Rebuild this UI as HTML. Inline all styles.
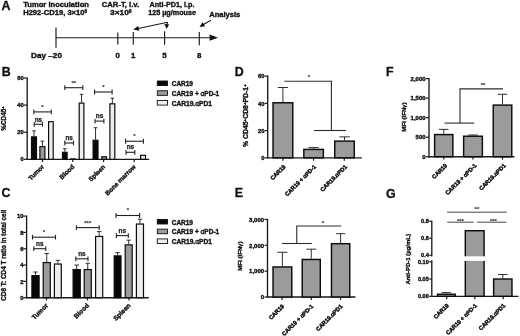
<!DOCTYPE html>
<html lang="en">
<head>
<meta charset="utf-8">
<title>Figure</title>
<style>
html,body{margin:0;padding:0;background:#fff;}
body{width:520px;height:336px;overflow:hidden;}
svg{display:block;font-family:"Liberation Sans", Arial, sans-serif;}
</style>
</head>
<body>
<svg width="520" height="336" viewBox="0 0 520 336">
<rect x="0" y="0" width="520" height="336" fill="#fff"/>
<g>
<text x="1.5" y="9.8" font-size="12.4" text-anchor="start" font-weight="bold" fill="#111" stroke="#111" stroke-width="0.32">A</text>
<text x="23.2" y="7.0" font-size="7.6" text-anchor="start" font-weight="bold" fill="#111" stroke="#111" stroke-width="0.36" textLength="65.80" lengthAdjust="spacingAndGlyphs">Tumor inoculation</text>
<text x="23.2" y="15.4" font-size="7.6" text-anchor="start" font-weight="bold" fill="#111" stroke="#111" stroke-width="0.36" textLength="63.80" lengthAdjust="spacingAndGlyphs">H292-CD19, 3×10<tspan font-size="4.6" dy="-2.6">6</tspan></text>
<text x="101.8" y="7.0" font-size="7.6" text-anchor="start" font-weight="bold" fill="#111" stroke="#111" stroke-width="0.36" textLength="37.30" lengthAdjust="spacingAndGlyphs">CAR-T, i.v.</text>
<text x="110.1" y="15.4" font-size="7.6" text-anchor="start" font-weight="bold" fill="#111" stroke="#111" stroke-width="0.36" textLength="21.60" lengthAdjust="spacingAndGlyphs">3×10<tspan font-size="4.6" dy="-2.6">6</tspan></text>
<text x="149.5" y="7.0" font-size="7.6" text-anchor="start" font-weight="bold" fill="#111" stroke="#111" stroke-width="0.36" textLength="44.90" lengthAdjust="spacingAndGlyphs">Anti-PD1, i.p.</text>
<text x="148.2" y="15.4" font-size="7.6" text-anchor="start" font-weight="bold" fill="#111" stroke="#111" stroke-width="0.36" textLength="47.80" lengthAdjust="spacingAndGlyphs">125 µg/mouse</text>
<text x="209.3" y="16.7" font-size="7.6" text-anchor="start" font-weight="bold" fill="#111" stroke="#111" stroke-width="0.36" textLength="31.00" lengthAdjust="spacingAndGlyphs">Analysis</text>
<line x1="56.00" y1="37.70" x2="212.00" y2="37.70" stroke="#1a1a1a" stroke-width="1.15"/>
<polygon points="209.6,34.6 218,37.7 209.6,40.8" fill="#111"/>
<line x1="56.00" y1="27.50" x2="56.00" y2="47.80" stroke="#1a1a1a" stroke-width="1.15"/>
<line x1="117.80" y1="32.60" x2="117.80" y2="44.60" stroke="#1a1a1a" stroke-width="1.15"/>
<line x1="133.30" y1="32.00" x2="133.30" y2="44.80" stroke="#1a1a1a" stroke-width="1.15"/>
<line x1="164.60" y1="31.30" x2="164.60" y2="44.80" stroke="#1a1a1a" stroke-width="1.15"/>
<line x1="199.30" y1="31.90" x2="199.30" y2="45.30" stroke="#1a1a1a" stroke-width="1.15"/>
<text x="31" y="58.4" font-size="7.9" text-anchor="start" font-weight="bold" fill="#111" stroke="#111" stroke-width="0.36" textLength="31.00" lengthAdjust="spacingAndGlyphs">Day –20</text>
<text x="117.8" y="58.4" font-size="7.9" text-anchor="middle" font-weight="bold" fill="#111" stroke="#111" stroke-width="0.36">0</text>
<text x="133.3" y="58.4" font-size="7.9" text-anchor="middle" font-weight="bold" fill="#111" stroke="#111" stroke-width="0.36">1</text>
<text x="164.5" y="58.4" font-size="7.9" text-anchor="middle" font-weight="bold" fill="#111" stroke="#111" stroke-width="0.36">5</text>
<text x="199.3" y="58.4" font-size="7.9" text-anchor="middle" font-weight="bold" fill="#111" stroke="#111" stroke-width="0.36">8</text>
<line x1="167.50" y1="22.20" x2="136.00" y2="29.00" stroke="#1a1a1a" stroke-width="1.05"/>
<polygon points="133.2,29.6 138.2,26.0 139.3,30.7" fill="#111"/>
<line x1="167.50" y1="22.20" x2="167.00" y2="25.00" stroke="#1a1a1a" stroke-width="1.05"/>
<polygon points="164.3,24.0 169.2,24.4 166.6,28.8" fill="#111"/>
<line x1="210.90" y1="20.20" x2="203.00" y2="24.80" stroke="#1a1a1a" stroke-width="1.05"/>
<polygon points="199.6,27.0 202.4,22.3 205.2,26.3" fill="#111"/>
<text x="1.7" y="75.9" font-size="12.4" text-anchor="start" font-weight="bold" fill="#111" stroke="#111" stroke-width="0.32">B</text>
<line x1="27.20" y1="77.60" x2="27.20" y2="159.98" stroke="#1a1a1a" stroke-width="1.35"/>
<line x1="26.52" y1="159.30" x2="149.20" y2="159.30" stroke="#1a1a1a" stroke-width="1.35"/>
<line x1="23.90" y1="159.30" x2="27.20" y2="159.30" stroke="#1a1a1a" stroke-width="1.2"/>
<text x="23.7" y="161.4" font-size="5.8" text-anchor="end" font-weight="bold" fill="#111" stroke="#111" stroke-width="0.36">0</text>
<line x1="23.90" y1="132.20" x2="27.20" y2="132.20" stroke="#1a1a1a" stroke-width="1.2"/>
<text x="23.7" y="134.3" font-size="5.8" text-anchor="end" font-weight="bold" fill="#111" stroke="#111" stroke-width="0.36">20</text>
<line x1="23.90" y1="105.10" x2="27.20" y2="105.10" stroke="#1a1a1a" stroke-width="1.2"/>
<text x="23.7" y="107.2" font-size="5.8" text-anchor="end" font-weight="bold" fill="#111" stroke="#111" stroke-width="0.36">40</text>
<line x1="23.90" y1="78.00" x2="27.20" y2="78.00" stroke="#1a1a1a" stroke-width="1.2"/>
<text x="23.7" y="80.10000000000001" font-size="5.8" text-anchor="end" font-weight="bold" fill="#111" stroke="#111" stroke-width="0.36">60</text>
<line x1="42.50" y1="159.30" x2="42.50" y2="162.00" stroke="#1a1a1a" stroke-width="1.2"/>
<line x1="72.75" y1="159.30" x2="72.75" y2="162.00" stroke="#1a1a1a" stroke-width="1.2"/>
<line x1="103.60" y1="159.30" x2="103.60" y2="162.00" stroke="#1a1a1a" stroke-width="1.2"/>
<line x1="134.20" y1="159.30" x2="134.20" y2="162.00" stroke="#1a1a1a" stroke-width="1.2"/>
<text x="6.3" y="118.5" font-size="6.5" text-anchor="middle" font-weight="bold" fill="#111" stroke="#111" stroke-width="0.36" textLength="24.50" lengthAdjust="spacingAndGlyphs" transform="rotate(-90 6.3 118.5)">%CD45<tspan font-size="4.4" dy="-2">+</tspan></text>
<line x1="34.00" y1="136.27" x2="34.00" y2="130.85" stroke="#1a1a1a" stroke-width="0.9"/>
<line x1="32.20" y1="130.85" x2="35.80" y2="130.85" stroke="#1a1a1a" stroke-width="0.9"/>
<rect x="31.50" y="136.87" width="5.00" height="22.43" fill="#080808" stroke="#0c0c0c" stroke-width="1.2"/>
<line x1="42.40" y1="146.02" x2="42.40" y2="141.14" stroke="#1a1a1a" stroke-width="0.9"/>
<line x1="40.60" y1="141.14" x2="44.20" y2="141.14" stroke="#1a1a1a" stroke-width="0.9"/>
<rect x="39.90" y="146.62" width="5.00" height="12.68" fill="#9b9b9b" stroke="#0c0c0c" stroke-width="1.2"/>
<rect x="48.60" y="121.69" width="4.60" height="37.61" fill="#eeeeee" stroke="#0c0c0c" stroke-width="1.2"/>
<line x1="64.80" y1="151.71" x2="64.80" y2="148.73" stroke="#1a1a1a" stroke-width="0.9"/>
<line x1="63.00" y1="148.73" x2="66.60" y2="148.73" stroke="#1a1a1a" stroke-width="0.9"/>
<rect x="62.50" y="152.31" width="4.60" height="6.99" fill="#080808" stroke="#0c0c0c" stroke-width="1.2"/>
<rect x="70.60" y="158.95" width="4.60" height="0.35" fill="#9b9b9b" stroke="#0c0c0c" stroke-width="1.2"/>
<line x1="81.55" y1="102.53" x2="81.55" y2="94.40" stroke="#1a1a1a" stroke-width="0.9"/>
<line x1="79.75" y1="94.40" x2="83.35" y2="94.40" stroke="#1a1a1a" stroke-width="0.9"/>
<rect x="79.20" y="103.13" width="4.70" height="56.17" fill="#eeeeee" stroke="#0c0c0c" stroke-width="1.2"/>
<line x1="95.55" y1="139.65" x2="95.55" y2="127.73" stroke="#1a1a1a" stroke-width="0.9"/>
<line x1="93.75" y1="127.73" x2="97.35" y2="127.73" stroke="#1a1a1a" stroke-width="0.9"/>
<rect x="93.10" y="140.25" width="4.90" height="19.05" fill="#080808" stroke="#0c0c0c" stroke-width="1.2"/>
<rect x="101.80" y="156.78" width="4.70" height="2.52" fill="#9b9b9b" stroke="#0c0c0c" stroke-width="1.2"/>
<line x1="112.35" y1="103.20" x2="112.35" y2="98.19" stroke="#1a1a1a" stroke-width="0.9"/>
<line x1="110.55" y1="98.19" x2="114.15" y2="98.19" stroke="#1a1a1a" stroke-width="0.9"/>
<rect x="109.90" y="103.80" width="4.90" height="55.50" fill="#eeeeee" stroke="#0c0c0c" stroke-width="1.2"/>
<rect x="123.80" y="159.56" width="4.80" height="-0.26" fill="#080808" stroke="#0c0c0c" stroke-width="1.2"/>
<rect x="132.20" y="159.56" width="4.80" height="-0.26" fill="#9b9b9b" stroke="#0c0c0c" stroke-width="1.2"/>
<rect x="140.60" y="155.29" width="4.90" height="4.01" fill="#eeeeee" stroke="#0c0c0c" stroke-width="1.2"/>
<line x1="33.80" y1="111.90" x2="51.30" y2="111.90" stroke="#222" stroke-width="1.1"/>
<line x1="33.80" y1="109.50" x2="33.80" y2="114.30" stroke="#222" stroke-width="1.1"/>
<line x1="51.30" y1="109.50" x2="51.30" y2="114.30" stroke="#222" stroke-width="1.1"/>
<text x="42.5" y="108.8" font-size="6.0" text-anchor="middle" font-weight="bold" fill="#3a3a3a" stroke="#3a3a3a" stroke-width="0.12">*</text>
<line x1="34.20" y1="124.30" x2="42.50" y2="124.30" stroke="#222" stroke-width="1.1"/>
<line x1="34.20" y1="121.90" x2="34.20" y2="126.70" stroke="#222" stroke-width="1.1"/>
<line x1="42.50" y1="121.90" x2="42.50" y2="126.70" stroke="#222" stroke-width="1.1"/>
<text x="38.4" y="121.60000000000001" font-size="6.4" text-anchor="middle" font-weight="bold" fill="#1a1a1a" stroke="#1a1a1a" stroke-width="0.25">ns</text>
<line x1="64.80" y1="87.70" x2="82.80" y2="87.70" stroke="#222" stroke-width="1.1"/>
<line x1="64.80" y1="85.30" x2="64.80" y2="90.10" stroke="#222" stroke-width="1.1"/>
<line x1="82.80" y1="85.30" x2="82.80" y2="90.10" stroke="#222" stroke-width="1.1"/>
<text x="73.8" y="84.60000000000001" font-size="6.0" text-anchor="middle" font-weight="bold" fill="#3a3a3a" stroke="#3a3a3a" stroke-width="0.12">**</text>
<line x1="64.80" y1="143.00" x2="73.50" y2="143.00" stroke="#222" stroke-width="1.1"/>
<line x1="64.80" y1="140.60" x2="64.80" y2="145.40" stroke="#222" stroke-width="1.1"/>
<line x1="73.50" y1="140.60" x2="73.50" y2="145.40" stroke="#222" stroke-width="1.1"/>
<text x="69.2" y="140.0" font-size="6.4" text-anchor="middle" font-weight="bold" fill="#1a1a1a" stroke="#1a1a1a" stroke-width="0.25">ns</text>
<line x1="94.60" y1="92.00" x2="112.10" y2="92.00" stroke="#222" stroke-width="1.1"/>
<line x1="94.60" y1="89.60" x2="94.60" y2="94.40" stroke="#222" stroke-width="1.1"/>
<line x1="112.10" y1="89.60" x2="112.10" y2="94.40" stroke="#222" stroke-width="1.1"/>
<text x="103.3" y="88.9" font-size="6.0" text-anchor="middle" font-weight="bold" fill="#3a3a3a" stroke="#3a3a3a" stroke-width="0.12">*</text>
<line x1="95.00" y1="121.10" x2="103.90" y2="121.10" stroke="#222" stroke-width="1.1"/>
<line x1="95.00" y1="118.70" x2="95.00" y2="123.50" stroke="#222" stroke-width="1.1"/>
<line x1="103.90" y1="118.70" x2="103.90" y2="123.50" stroke="#222" stroke-width="1.1"/>
<text x="99.5" y="118.2" font-size="6.4" text-anchor="middle" font-weight="bold" fill="#1a1a1a" stroke="#1a1a1a" stroke-width="0.25">ns</text>
<line x1="125.60" y1="141.25" x2="143.40" y2="141.25" stroke="#222" stroke-width="1.1"/>
<line x1="125.60" y1="138.85" x2="125.60" y2="143.65" stroke="#222" stroke-width="1.1"/>
<line x1="143.40" y1="138.85" x2="143.40" y2="143.65" stroke="#222" stroke-width="1.1"/>
<text x="134.5" y="138.2" font-size="6.0" text-anchor="middle" font-weight="bold" fill="#3a3a3a" stroke="#3a3a3a" stroke-width="0.12">*</text>
<line x1="126.00" y1="152.30" x2="134.80" y2="152.30" stroke="#222" stroke-width="1.1"/>
<line x1="126.00" y1="149.90" x2="126.00" y2="154.70" stroke="#222" stroke-width="1.1"/>
<line x1="134.80" y1="149.90" x2="134.80" y2="154.70" stroke="#222" stroke-width="1.1"/>
<text x="130.4" y="149.0" font-size="6.4" text-anchor="middle" font-weight="bold" fill="#1a1a1a" stroke="#1a1a1a" stroke-width="0.25">ns</text>
<text x="44.5" y="167.2" font-size="6.3" text-anchor="end" font-weight="bold" fill="#111" stroke="#111" stroke-width="0.36" transform="rotate(-45 44.5 167.2)">Tumor</text>
<text x="74.75" y="167.2" font-size="6.3" text-anchor="end" font-weight="bold" fill="#111" stroke="#111" stroke-width="0.36" transform="rotate(-45 74.75 167.2)">Blood</text>
<text x="105.6" y="167.2" font-size="6.3" text-anchor="end" font-weight="bold" fill="#111" stroke="#111" stroke-width="0.36" transform="rotate(-45 105.6 167.2)">Spleen</text>
<text x="136.2" y="167.2" font-size="6.3" text-anchor="end" font-weight="bold" fill="#111" stroke="#111" stroke-width="0.36" transform="rotate(-45 136.2 167.2)">Bone marrow</text>
<rect x="157.30" y="81.00" width="10.20" height="4.60" fill="#080808" stroke="#111" stroke-width="0.9"/>
<text x="171.7" y="86.1" font-size="6.5" text-anchor="start" font-weight="bold" fill="#111" stroke="#111" stroke-width="0.36" textLength="21.30" lengthAdjust="spacingAndGlyphs">CAR19</text>
<rect x="157.30" y="90.75" width="10.20" height="4.60" fill="#9b9b9b" stroke="#111" stroke-width="0.9"/>
<text x="171.7" y="95.85" font-size="6.5" text-anchor="start" font-weight="bold" fill="#111" stroke="#111" stroke-width="0.36" textLength="47.50" lengthAdjust="spacingAndGlyphs">CAR19 + <tspan font-weight="normal">α</tspan>PD-1</text>
<rect x="157.30" y="100.50" width="10.20" height="4.60" fill="#eeeeee" stroke="#111" stroke-width="0.9"/>
<text x="171.7" y="105.6" font-size="6.5" text-anchor="start" font-weight="bold" fill="#111" stroke="#111" stroke-width="0.36" textLength="40.20" lengthAdjust="spacingAndGlyphs">CAR19.<tspan font-weight="normal">α</tspan>PD1</text>
<text x="1.6" y="197.2" font-size="12.4" text-anchor="start" font-weight="bold" fill="#111" stroke="#111" stroke-width="0.32">C</text>
<line x1="26.60" y1="215.60" x2="26.60" y2="298.38" stroke="#1a1a1a" stroke-width="1.35"/>
<line x1="25.93" y1="297.70" x2="148.80" y2="297.70" stroke="#1a1a1a" stroke-width="1.35"/>
<line x1="23.30" y1="297.70" x2="26.60" y2="297.70" stroke="#1a1a1a" stroke-width="1.2"/>
<text x="23.5" y="300.0" font-size="5.8" text-anchor="end" font-weight="bold" fill="#111" stroke="#111" stroke-width="0.36">0</text>
<line x1="23.30" y1="281.38" x2="26.60" y2="281.38" stroke="#1a1a1a" stroke-width="1.2"/>
<text x="23.5" y="283.68" font-size="5.8" text-anchor="end" font-weight="bold" fill="#111" stroke="#111" stroke-width="0.36">2</text>
<line x1="23.30" y1="265.06" x2="26.60" y2="265.06" stroke="#1a1a1a" stroke-width="1.2"/>
<text x="23.5" y="267.36" font-size="5.8" text-anchor="end" font-weight="bold" fill="#111" stroke="#111" stroke-width="0.36">4</text>
<line x1="23.30" y1="248.74" x2="26.60" y2="248.74" stroke="#1a1a1a" stroke-width="1.2"/>
<text x="23.5" y="251.04" font-size="5.8" text-anchor="end" font-weight="bold" fill="#111" stroke="#111" stroke-width="0.36">6</text>
<line x1="23.30" y1="232.42" x2="26.60" y2="232.42" stroke="#1a1a1a" stroke-width="1.2"/>
<text x="23.5" y="234.72" font-size="5.8" text-anchor="end" font-weight="bold" fill="#111" stroke="#111" stroke-width="0.36">8</text>
<line x1="23.30" y1="216.10" x2="26.60" y2="216.10" stroke="#1a1a1a" stroke-width="1.2"/>
<text x="23.5" y="218.4" font-size="5.8" text-anchor="end" font-weight="bold" fill="#111" stroke="#111" stroke-width="0.36">10</text>
<line x1="46.50" y1="297.70" x2="46.50" y2="300.40" stroke="#1a1a1a" stroke-width="1.2"/>
<line x1="87.50" y1="297.70" x2="87.50" y2="300.40" stroke="#1a1a1a" stroke-width="1.2"/>
<line x1="129.00" y1="297.70" x2="129.00" y2="300.40" stroke="#1a1a1a" stroke-width="1.2"/>
<text x="6.1" y="255.3" font-size="6.5" text-anchor="middle" font-weight="bold" fill="#111" stroke="#111" stroke-width="0.36" textLength="91.00" lengthAdjust="spacingAndGlyphs" transform="rotate(-90 6.1 255.3)">CD8 T: CD4 T ratio in total cell</text>
<line x1="35.50" y1="275.02" x2="35.50" y2="272.00" stroke="#1a1a1a" stroke-width="0.9"/>
<line x1="33.30" y1="272.00" x2="37.70" y2="272.00" stroke="#1a1a1a" stroke-width="0.9"/>
<rect x="31.90" y="275.62" width="7.20" height="22.08" fill="#080808" stroke="#0c0c0c" stroke-width="1.2"/>
<line x1="46.75" y1="261.96" x2="46.75" y2="253.47" stroke="#1a1a1a" stroke-width="0.9"/>
<line x1="44.55" y1="253.47" x2="48.95" y2="253.47" stroke="#1a1a1a" stroke-width="0.9"/>
<rect x="43.20" y="262.56" width="7.10" height="35.14" fill="#9b9b9b" stroke="#0c0c0c" stroke-width="1.2"/>
<line x1="57.85" y1="263.43" x2="57.85" y2="260.33" stroke="#1a1a1a" stroke-width="0.9"/>
<line x1="55.65" y1="260.33" x2="60.05" y2="260.33" stroke="#1a1a1a" stroke-width="0.9"/>
<rect x="54.40" y="264.03" width="6.90" height="33.67" fill="#eeeeee" stroke="#0c0c0c" stroke-width="1.2"/>
<line x1="76.70" y1="268.98" x2="76.70" y2="265.06" stroke="#1a1a1a" stroke-width="0.9"/>
<line x1="74.50" y1="265.06" x2="78.90" y2="265.06" stroke="#1a1a1a" stroke-width="0.9"/>
<rect x="73.10" y="269.58" width="7.20" height="28.12" fill="#080808" stroke="#0c0c0c" stroke-width="1.2"/>
<line x1="87.75" y1="268.98" x2="87.75" y2="263.26" stroke="#1a1a1a" stroke-width="0.9"/>
<line x1="85.55" y1="263.26" x2="89.95" y2="263.26" stroke="#1a1a1a" stroke-width="0.9"/>
<rect x="84.20" y="269.58" width="7.10" height="28.12" fill="#9b9b9b" stroke="#0c0c0c" stroke-width="1.2"/>
<line x1="99.15" y1="235.85" x2="99.15" y2="231.60" stroke="#1a1a1a" stroke-width="0.9"/>
<line x1="96.95" y1="231.60" x2="101.35" y2="231.60" stroke="#1a1a1a" stroke-width="0.9"/>
<rect x="95.60" y="236.45" width="7.10" height="61.25" fill="#eeeeee" stroke="#0c0c0c" stroke-width="1.2"/>
<line x1="117.60" y1="255.27" x2="117.60" y2="252.66" stroke="#1a1a1a" stroke-width="0.9"/>
<line x1="115.40" y1="252.66" x2="119.80" y2="252.66" stroke="#1a1a1a" stroke-width="0.9"/>
<rect x="114.20" y="255.87" width="6.80" height="41.83" fill="#080808" stroke="#0c0c0c" stroke-width="1.2"/>
<line x1="128.70" y1="244.25" x2="128.70" y2="240.17" stroke="#1a1a1a" stroke-width="0.9"/>
<line x1="126.50" y1="240.17" x2="130.90" y2="240.17" stroke="#1a1a1a" stroke-width="0.9"/>
<rect x="125.20" y="244.85" width="7.00" height="52.85" fill="#9b9b9b" stroke="#0c0c0c" stroke-width="1.2"/>
<line x1="139.95" y1="223.44" x2="139.95" y2="219.20" stroke="#1a1a1a" stroke-width="0.9"/>
<line x1="137.75" y1="219.20" x2="142.15" y2="219.20" stroke="#1a1a1a" stroke-width="0.9"/>
<rect x="136.40" y="224.04" width="7.10" height="73.66" fill="#eeeeee" stroke="#0c0c0c" stroke-width="1.2"/>
<line x1="32.50" y1="237.20" x2="55.50" y2="237.20" stroke="#222" stroke-width="1.1"/>
<line x1="32.50" y1="234.80" x2="32.50" y2="239.60" stroke="#222" stroke-width="1.1"/>
<line x1="55.50" y1="234.80" x2="55.50" y2="239.60" stroke="#222" stroke-width="1.1"/>
<text x="44" y="234.1" font-size="6.0" text-anchor="middle" font-weight="bold" fill="#3a3a3a" stroke="#3a3a3a" stroke-width="0.12">*</text>
<line x1="33.80" y1="248.70" x2="45.80" y2="248.70" stroke="#222" stroke-width="1.1"/>
<line x1="33.80" y1="246.30" x2="33.80" y2="251.10" stroke="#222" stroke-width="1.1"/>
<line x1="45.80" y1="246.30" x2="45.80" y2="251.10" stroke="#222" stroke-width="1.1"/>
<text x="39.8" y="245.89999999999998" font-size="6.4" text-anchor="middle" font-weight="bold" fill="#1a1a1a" stroke="#1a1a1a" stroke-width="0.25">ns</text>
<line x1="76.40" y1="227.60" x2="99.20" y2="227.60" stroke="#222" stroke-width="1.1"/>
<line x1="76.40" y1="225.20" x2="76.40" y2="230.00" stroke="#222" stroke-width="1.1"/>
<line x1="99.20" y1="225.20" x2="99.20" y2="230.00" stroke="#222" stroke-width="1.1"/>
<text x="87.8" y="224.5" font-size="6.0" text-anchor="middle" font-weight="bold" fill="#3a3a3a" stroke="#3a3a3a" stroke-width="0.12">***</text>
<line x1="75.80" y1="258.80" x2="88.00" y2="258.80" stroke="#222" stroke-width="1.1"/>
<line x1="75.80" y1="256.40" x2="75.80" y2="261.20" stroke="#222" stroke-width="1.1"/>
<line x1="88.00" y1="256.40" x2="88.00" y2="261.20" stroke="#222" stroke-width="1.1"/>
<text x="81.9" y="256.0" font-size="6.4" text-anchor="middle" font-weight="bold" fill="#1a1a1a" stroke="#1a1a1a" stroke-width="0.25">ns</text>
<line x1="116.00" y1="215.50" x2="139.60" y2="215.50" stroke="#222" stroke-width="1.1"/>
<line x1="116.00" y1="213.10" x2="116.00" y2="217.90" stroke="#222" stroke-width="1.1"/>
<line x1="139.60" y1="213.10" x2="139.60" y2="217.90" stroke="#222" stroke-width="1.1"/>
<text x="127.8" y="212.39999999999998" font-size="6.0" text-anchor="middle" font-weight="bold" fill="#3a3a3a" stroke="#3a3a3a" stroke-width="0.12">*</text>
<line x1="116.40" y1="235.60" x2="128.30" y2="235.60" stroke="#222" stroke-width="1.1"/>
<line x1="116.40" y1="233.20" x2="116.40" y2="238.00" stroke="#222" stroke-width="1.1"/>
<line x1="128.30" y1="233.20" x2="128.30" y2="238.00" stroke="#222" stroke-width="1.1"/>
<text x="122.3" y="232.79999999999998" font-size="6.4" text-anchor="middle" font-weight="bold" fill="#1a1a1a" stroke="#1a1a1a" stroke-width="0.25">ns</text>
<text x="48.5" y="306.0" font-size="6.5" text-anchor="end" font-weight="bold" fill="#111" stroke="#111" stroke-width="0.36" transform="rotate(-45 48.5 306.0)">Tumor</text>
<text x="89.5" y="306.0" font-size="6.5" text-anchor="end" font-weight="bold" fill="#111" stroke="#111" stroke-width="0.36" transform="rotate(-45 89.5 306.0)">Blood</text>
<text x="131.0" y="306.0" font-size="6.5" text-anchor="end" font-weight="bold" fill="#111" stroke="#111" stroke-width="0.36" transform="rotate(-45 131.0 306.0)">Spleen</text>
<rect x="157.30" y="219.40" width="10.20" height="4.60" fill="#080808" stroke="#111" stroke-width="0.9"/>
<text x="171.7" y="224.5" font-size="6.5" text-anchor="start" font-weight="bold" fill="#111" stroke="#111" stroke-width="0.36" textLength="21.30" lengthAdjust="spacingAndGlyphs">CAR19</text>
<rect x="157.30" y="229.15" width="10.20" height="4.60" fill="#9b9b9b" stroke="#111" stroke-width="0.9"/>
<text x="171.7" y="234.25" font-size="6.5" text-anchor="start" font-weight="bold" fill="#111" stroke="#111" stroke-width="0.36" textLength="47.50" lengthAdjust="spacingAndGlyphs">CAR19 + <tspan font-weight="normal">α</tspan>PD-1</text>
<rect x="157.30" y="238.90" width="10.20" height="4.60" fill="#eeeeee" stroke="#111" stroke-width="0.9"/>
<text x="171.7" y="244.0" font-size="6.5" text-anchor="start" font-weight="bold" fill="#111" stroke="#111" stroke-width="0.36" textLength="40.20" lengthAdjust="spacingAndGlyphs">CAR19.<tspan font-weight="normal">α</tspan>PD1</text>
<text x="234.7" y="75.9" font-size="12.4" text-anchor="start" font-weight="bold" fill="#111" stroke="#111" stroke-width="0.32">D</text>
<line x1="267.70" y1="75.60" x2="267.70" y2="158.48" stroke="#1a1a1a" stroke-width="1.35"/>
<line x1="267.02" y1="157.80" x2="361.80" y2="157.80" stroke="#1a1a1a" stroke-width="1.35"/>
<line x1="264.70" y1="157.80" x2="267.70" y2="157.80" stroke="#1a1a1a" stroke-width="1.2"/>
<text x="264.4" y="159.9" font-size="5.8" text-anchor="end" font-weight="bold" fill="#111" stroke="#111" stroke-width="0.36">0</text>
<line x1="264.70" y1="130.60" x2="267.70" y2="130.60" stroke="#1a1a1a" stroke-width="1.2"/>
<text x="264.4" y="132.70000000000002" font-size="5.8" text-anchor="end" font-weight="bold" fill="#111" stroke="#111" stroke-width="0.36">20</text>
<line x1="264.70" y1="103.40" x2="267.70" y2="103.40" stroke="#1a1a1a" stroke-width="1.2"/>
<text x="264.4" y="105.5" font-size="5.8" text-anchor="end" font-weight="bold" fill="#111" stroke="#111" stroke-width="0.36">40</text>
<line x1="264.70" y1="76.20" x2="267.70" y2="76.20" stroke="#1a1a1a" stroke-width="1.2"/>
<text x="264.4" y="78.3" font-size="5.8" text-anchor="end" font-weight="bold" fill="#111" stroke="#111" stroke-width="0.36">60</text>
<line x1="282.90" y1="157.80" x2="282.90" y2="160.70" stroke="#1a1a1a" stroke-width="1.2"/>
<line x1="313.50" y1="157.80" x2="313.50" y2="160.70" stroke="#1a1a1a" stroke-width="1.2"/>
<line x1="344.30" y1="157.80" x2="344.30" y2="160.70" stroke="#1a1a1a" stroke-width="1.2"/>
<text x="248.0" y="115.6" font-size="6.5" text-anchor="middle" font-weight="bold" fill="#111" stroke="#111" stroke-width="0.36" textLength="62.80" lengthAdjust="spacingAndGlyphs" transform="rotate(-90 248.0 115.6)">% CD45<tspan font-size="4.2" dy="-2">+</tspan><tspan dy="2">CD8</tspan><tspan font-size="4.2" dy="-2">+</tspan><tspan dy="2">PD-1</tspan><tspan font-size="4.2" dy="-2">+</tspan></text>
<line x1="282.90" y1="102.04" x2="282.90" y2="87.49" stroke="#1a1a1a" stroke-width="0.9"/>
<line x1="277.75" y1="87.49" x2="288.05" y2="87.49" stroke="#1a1a1a" stroke-width="0.9"/>
<rect x="273.03" y="102.77" width="19.75" height="55.04" fill="#9b9b9b" stroke="#0c0c0c" stroke-width="1.45"/>
<line x1="313.60" y1="148.69" x2="313.60" y2="147.60" stroke="#1a1a1a" stroke-width="0.9"/>
<line x1="308.45" y1="147.60" x2="318.75" y2="147.60" stroke="#1a1a1a" stroke-width="0.9"/>
<rect x="303.83" y="149.41" width="19.55" height="8.39" fill="#9b9b9b" stroke="#0c0c0c" stroke-width="1.45"/>
<line x1="344.50" y1="140.39" x2="344.50" y2="136.86" stroke="#1a1a1a" stroke-width="0.9"/>
<line x1="339.35" y1="136.86" x2="349.65" y2="136.86" stroke="#1a1a1a" stroke-width="0.9"/>
<rect x="334.73" y="141.12" width="19.55" height="16.68" fill="#9b9b9b" stroke="#0c0c0c" stroke-width="1.45"/>
<line x1="284.30" y1="81.30" x2="331.50" y2="81.30" stroke="#2c2c2c" stroke-width="1.1"/>
<line x1="331.40" y1="80.85" x2="331.40" y2="130.50" stroke="#2c2c2c" stroke-width="1.1"/>
<line x1="314.00" y1="130.50" x2="346.00" y2="130.50" stroke="#2c2c2c" stroke-width="1.1"/>
<text x="309" y="79.10000000000001" font-size="6.0" text-anchor="middle" font-weight="bold" fill="#3a3a3a" stroke="#3a3a3a" stroke-width="0.12">*</text>
<text x="286.0" y="167.2" font-size="5.8" text-anchor="end" font-weight="bold" fill="#111" stroke="#111" stroke-width="0.45" textLength="18.80" lengthAdjust="spacingAndGlyphs" transform="rotate(-45 286.0 167.2)">CAR19</text>
<text x="316.6" y="167.2" font-size="5.8" text-anchor="end" font-weight="bold" fill="#111" stroke="#111" stroke-width="0.45" textLength="41.50" lengthAdjust="spacingAndGlyphs" transform="rotate(-45 316.6 167.2)">CAR19 + <tspan font-weight="normal">α</tspan>PD-1</text>
<text x="347.4" y="167.2" font-size="5.8" text-anchor="end" font-weight="bold" fill="#111" stroke="#111" stroke-width="0.45" textLength="35.00" lengthAdjust="spacingAndGlyphs" transform="rotate(-45 347.4 167.2)">CAR19.<tspan font-weight="normal">α</tspan>PD1</text>
<text x="234.7" y="196.9" font-size="12.4" text-anchor="start" font-weight="bold" fill="#111" stroke="#111" stroke-width="0.32">E</text>
<line x1="267.50" y1="219.00" x2="267.50" y2="297.68" stroke="#1a1a1a" stroke-width="1.35"/>
<line x1="266.82" y1="297.00" x2="355.50" y2="297.00" stroke="#1a1a1a" stroke-width="1.35"/>
<line x1="264.50" y1="297.00" x2="267.50" y2="297.00" stroke="#1a1a1a" stroke-width="1.2"/>
<text x="264.1" y="299.2" font-size="6.0" text-anchor="end" font-weight="bold" fill="#111" stroke="#111" stroke-width="0.36">0</text>
<line x1="264.50" y1="271.15" x2="267.50" y2="271.15" stroke="#1a1a1a" stroke-width="1.2"/>
<text x="264.1" y="273.34999999999997" font-size="6.0" text-anchor="end" font-weight="bold" fill="#111" stroke="#111" stroke-width="0.36">1,000</text>
<line x1="264.50" y1="245.30" x2="267.50" y2="245.30" stroke="#1a1a1a" stroke-width="1.2"/>
<text x="264.1" y="247.5" font-size="6.0" text-anchor="end" font-weight="bold" fill="#111" stroke="#111" stroke-width="0.36">2,000</text>
<line x1="264.50" y1="219.45" x2="267.50" y2="219.45" stroke="#1a1a1a" stroke-width="1.2"/>
<text x="264.1" y="221.64999999999998" font-size="6.0" text-anchor="end" font-weight="bold" fill="#111" stroke="#111" stroke-width="0.36">3,000</text>
<line x1="282.00" y1="297.00" x2="282.00" y2="299.90" stroke="#1a1a1a" stroke-width="1.2"/>
<line x1="311.25" y1="297.00" x2="311.25" y2="299.90" stroke="#1a1a1a" stroke-width="1.2"/>
<line x1="340.50" y1="297.00" x2="340.50" y2="299.90" stroke="#1a1a1a" stroke-width="1.2"/>
<text x="241.8" y="256.2" font-size="5.9" text-anchor="middle" font-weight="bold" fill="#111" stroke="#111" stroke-width="0.36" textLength="29.30" lengthAdjust="spacingAndGlyphs" transform="rotate(-90 241.8 256.2)">MFI (IFN<tspan font-weight="normal">γ</tspan>)</text>
<line x1="282.40" y1="266.24" x2="282.40" y2="252.28" stroke="#1a1a1a" stroke-width="0.9"/>
<line x1="277.40" y1="252.28" x2="287.40" y2="252.28" stroke="#1a1a1a" stroke-width="0.9"/>
<rect x="273.03" y="266.96" width="18.75" height="30.04" fill="#9b9b9b" stroke="#0c0c0c" stroke-width="1.45"/>
<line x1="311.25" y1="258.74" x2="311.25" y2="249.18" stroke="#1a1a1a" stroke-width="0.9"/>
<line x1="306.25" y1="249.18" x2="316.25" y2="249.18" stroke="#1a1a1a" stroke-width="0.9"/>
<rect x="302.23" y="259.47" width="18.05" height="37.53" fill="#9b9b9b" stroke="#0c0c0c" stroke-width="1.45"/>
<line x1="340.62" y1="242.97" x2="340.62" y2="233.67" stroke="#1a1a1a" stroke-width="0.9"/>
<line x1="336.12" y1="233.67" x2="345.12" y2="233.67" stroke="#1a1a1a" stroke-width="0.9"/>
<rect x="331.48" y="243.70" width="18.30" height="53.30" fill="#9b9b9b" stroke="#0c0c0c" stroke-width="1.45"/>
<line x1="296.30" y1="226.00" x2="341.25" y2="226.00" stroke="#2c2c2c" stroke-width="1.1"/>
<line x1="296.75" y1="226.00" x2="296.75" y2="243.50" stroke="#2c2c2c" stroke-width="1.1"/>
<line x1="282.00" y1="243.50" x2="311.75" y2="243.50" stroke="#2c2c2c" stroke-width="1.1"/>
<text x="323" y="225.1" font-size="6.0" text-anchor="middle" font-weight="bold" fill="#3a3a3a" stroke="#3a3a3a" stroke-width="0.12">*</text>
<text x="284.5" y="306.8" font-size="5.8" text-anchor="end" font-weight="bold" fill="#111" stroke="#111" stroke-width="0.45" textLength="18.80" lengthAdjust="spacingAndGlyphs" transform="rotate(-45 284.5 306.8)">CAR19</text>
<text x="313.7" y="306.8" font-size="5.8" text-anchor="end" font-weight="bold" fill="#111" stroke="#111" stroke-width="0.45" textLength="41.50" lengthAdjust="spacingAndGlyphs" transform="rotate(-45 313.7 306.8)">CAR19 + <tspan font-weight="normal">α</tspan>PD-1</text>
<text x="343.0" y="306.8" font-size="5.8" text-anchor="end" font-weight="bold" fill="#111" stroke="#111" stroke-width="0.45" textLength="35.00" lengthAdjust="spacingAndGlyphs" transform="rotate(-45 343.0 306.8)">CAR19.<tspan font-weight="normal">α</tspan>PD1</text>
<text x="386.0" y="76" font-size="12.4" text-anchor="start" font-weight="bold" fill="#111" stroke="#111" stroke-width="0.32">F</text>
<line x1="429.00" y1="78.00" x2="429.00" y2="157.38" stroke="#1a1a1a" stroke-width="1.35"/>
<line x1="428.32" y1="156.70" x2="514.50" y2="156.70" stroke="#1a1a1a" stroke-width="1.35"/>
<line x1="426.00" y1="156.70" x2="429.00" y2="156.70" stroke="#1a1a1a" stroke-width="1.2"/>
<text x="425.6" y="158.89999999999998" font-size="6.0" text-anchor="end" font-weight="bold" fill="#111" stroke="#111" stroke-width="0.36">0</text>
<line x1="426.00" y1="137.17" x2="429.00" y2="137.17" stroke="#1a1a1a" stroke-width="1.2"/>
<text x="425.6" y="139.37499999999997" font-size="6.0" text-anchor="end" font-weight="bold" fill="#111" stroke="#111" stroke-width="0.36">500</text>
<line x1="426.00" y1="117.65" x2="429.00" y2="117.65" stroke="#1a1a1a" stroke-width="1.2"/>
<text x="425.6" y="119.84999999999998" font-size="6.0" text-anchor="end" font-weight="bold" fill="#111" stroke="#111" stroke-width="0.36">1,000</text>
<line x1="426.00" y1="98.12" x2="429.00" y2="98.12" stroke="#1a1a1a" stroke-width="1.2"/>
<text x="425.6" y="100.32499999999999" font-size="6.0" text-anchor="end" font-weight="bold" fill="#111" stroke="#111" stroke-width="0.36">1,500</text>
<line x1="426.00" y1="78.60" x2="429.00" y2="78.60" stroke="#1a1a1a" stroke-width="1.2"/>
<text x="425.6" y="80.79999999999998" font-size="6.0" text-anchor="end" font-weight="bold" fill="#111" stroke="#111" stroke-width="0.36">2,000</text>
<line x1="443.80" y1="156.70" x2="443.80" y2="159.60" stroke="#1a1a1a" stroke-width="1.2"/>
<line x1="472.90" y1="156.70" x2="472.90" y2="159.60" stroke="#1a1a1a" stroke-width="1.2"/>
<line x1="502.50" y1="156.70" x2="502.50" y2="159.60" stroke="#1a1a1a" stroke-width="1.2"/>
<text x="405.7" y="117.2" font-size="5.9" text-anchor="middle" font-weight="bold" fill="#111" stroke="#111" stroke-width="0.36" textLength="29.30" lengthAdjust="spacingAndGlyphs" transform="rotate(-90 405.7 117.2)">MFI (IFN<tspan font-weight="normal">γ</tspan>)</text>
<line x1="443.75" y1="133.86" x2="443.75" y2="129.36" stroke="#1a1a1a" stroke-width="0.9"/>
<line x1="439.00" y1="129.36" x2="448.50" y2="129.36" stroke="#1a1a1a" stroke-width="0.9"/>
<rect x="434.62" y="134.58" width="18.25" height="22.12" fill="#9b9b9b" stroke="#0c0c0c" stroke-width="1.45"/>
<line x1="473.00" y1="135.50" x2="473.00" y2="134.99" stroke="#1a1a1a" stroke-width="0.9"/>
<line x1="468.25" y1="134.99" x2="477.75" y2="134.99" stroke="#1a1a1a" stroke-width="0.9"/>
<rect x="463.62" y="136.22" width="18.75" height="20.48" fill="#9b9b9b" stroke="#0c0c0c" stroke-width="1.45"/>
<line x1="502.50" y1="104.37" x2="502.50" y2="94.30" stroke="#1a1a1a" stroke-width="0.9"/>
<line x1="497.75" y1="94.30" x2="507.25" y2="94.30" stroke="#1a1a1a" stroke-width="0.9"/>
<rect x="493.23" y="105.10" width="18.55" height="51.60" fill="#9b9b9b" stroke="#0c0c0c" stroke-width="1.45"/>
<line x1="459.55" y1="88.90" x2="503.00" y2="88.90" stroke="#2c2c2c" stroke-width="1.1"/>
<line x1="460.00" y1="88.90" x2="460.00" y2="123.10" stroke="#2c2c2c" stroke-width="1.1"/>
<line x1="444.60" y1="123.10" x2="474.20" y2="123.10" stroke="#2c2c2c" stroke-width="1.1"/>
<text x="483.1" y="86.9" font-size="6.0" text-anchor="middle" font-weight="bold" fill="#3a3a3a" stroke="#3a3a3a" stroke-width="0.12">**</text>
<text x="447.6" y="166.0" font-size="5.8" text-anchor="end" font-weight="bold" fill="#111" stroke="#111" stroke-width="0.45" textLength="18.80" lengthAdjust="spacingAndGlyphs" transform="rotate(-45 447.6 166.0)">CAR19</text>
<text x="477.0" y="166.0" font-size="5.8" text-anchor="end" font-weight="bold" fill="#111" stroke="#111" stroke-width="0.45" textLength="41.50" lengthAdjust="spacingAndGlyphs" transform="rotate(-45 477.0 166.0)">CAR19 + <tspan font-weight="normal">α</tspan>PD-1</text>
<text x="506.2" y="166.0" font-size="5.8" text-anchor="end" font-weight="bold" fill="#111" stroke="#111" stroke-width="0.45" textLength="35.00" lengthAdjust="spacingAndGlyphs" transform="rotate(-45 506.2 166.0)">CAR19.<tspan font-weight="normal">α</tspan>PD1</text>
<text x="386.0" y="197.5" font-size="12.4" text-anchor="start" font-weight="bold" fill="#111" stroke="#111" stroke-width="0.32">G</text>
<line x1="431.80" y1="220.70" x2="431.80" y2="256.60" stroke="#1a1a1a" stroke-width="1.35"/>
<line x1="431.80" y1="260.20" x2="431.80" y2="296.98" stroke="#1a1a1a" stroke-width="1.35"/>
<line x1="431.12" y1="296.30" x2="518.50" y2="296.30" stroke="#1a1a1a" stroke-width="1.35"/>
<line x1="429.20" y1="221.30" x2="431.80" y2="221.30" stroke="#1a1a1a" stroke-width="1.2"/>
<text x="428.8" y="223.4" font-size="5.6" text-anchor="end" font-weight="bold" fill="#111" stroke="#111" stroke-width="0.36">0.8</text>
<line x1="429.20" y1="238.30" x2="431.80" y2="238.30" stroke="#1a1a1a" stroke-width="1.2"/>
<text x="428.8" y="240.4" font-size="5.6" text-anchor="end" font-weight="bold" fill="#111" stroke="#111" stroke-width="0.36">0.6</text>
<line x1="429.20" y1="255.20" x2="431.80" y2="255.20" stroke="#1a1a1a" stroke-width="1.2"/>
<text x="428.8" y="257.3" font-size="5.6" text-anchor="end" font-weight="bold" fill="#111" stroke="#111" stroke-width="0.36">0.4</text>
<line x1="429.20" y1="261.80" x2="431.80" y2="261.80" stroke="#1a1a1a" stroke-width="1.2"/>
<text x="428.8" y="263.90000000000003" font-size="5.6" text-anchor="end" font-weight="bold" fill="#111" stroke="#111" stroke-width="0.36">0.10</text>
<line x1="429.20" y1="279.00" x2="431.80" y2="279.00" stroke="#1a1a1a" stroke-width="1.2"/>
<text x="428.8" y="281.1" font-size="5.6" text-anchor="end" font-weight="bold" fill="#111" stroke="#111" stroke-width="0.36">0.05</text>
<line x1="429.20" y1="296.30" x2="431.80" y2="296.30" stroke="#1a1a1a" stroke-width="1.2"/>
<text x="428.8" y="298.40000000000003" font-size="5.6" text-anchor="end" font-weight="bold" fill="#111" stroke="#111" stroke-width="0.36">0.00</text>
<line x1="446.70" y1="296.30" x2="446.70" y2="299.20" stroke="#1a1a1a" stroke-width="1.2"/>
<line x1="474.80" y1="296.30" x2="474.80" y2="299.20" stroke="#1a1a1a" stroke-width="1.2"/>
<line x1="503.20" y1="296.30" x2="503.20" y2="299.20" stroke="#1a1a1a" stroke-width="1.2"/>
<text x="410.4" y="259.3" font-size="5.9" text-anchor="middle" font-weight="bold" fill="#111" stroke="#111" stroke-width="0.36" textLength="50.60" lengthAdjust="spacingAndGlyphs" transform="rotate(-90 410.4 259.3)">Anti-PD-1 (µg/mL)</text>
<line x1="446.32" y1="293.50" x2="446.32" y2="292.60" stroke="#1a1a1a" stroke-width="0.9"/>
<line x1="441.57" y1="292.60" x2="451.07" y2="292.60" stroke="#1a1a1a" stroke-width="0.9"/>
<rect x="437.48" y="294.23" width="17.70" height="2.08" fill="#9b9b9b" stroke="#0c0c0c" stroke-width="1.45"/>
<rect x="465.33" y="230.72" width="18.75" height="65.58" fill="#9b9b9b" stroke="#0c0c0c" stroke-width="1.45"/>
<rect x="463" y="256.3" width="24" height="4.6" fill="#fff"/>
<line x1="502.80" y1="278.30" x2="502.80" y2="274.50" stroke="#1a1a1a" stroke-width="0.9"/>
<line x1="498.05" y1="274.50" x2="507.55" y2="274.50" stroke="#1a1a1a" stroke-width="0.9"/>
<rect x="493.62" y="279.03" width="18.35" height="17.27" fill="#9b9b9b" stroke="#0c0c0c" stroke-width="1.45"/>
<line x1="447.10" y1="212.20" x2="506.70" y2="212.20" stroke="#444" stroke-width="1.0"/>
<text x="476.9" y="211.29999999999998" font-size="6.0" text-anchor="middle" font-weight="bold" fill="#3a3a3a" stroke="#3a3a3a" stroke-width="0.12">**</text>
<line x1="447.30" y1="222.20" x2="473.60" y2="222.20" stroke="#444" stroke-width="1.0"/>
<line x1="477.20" y1="222.20" x2="506.50" y2="222.20" stroke="#444" stroke-width="1.0"/>
<text x="460.4" y="222.6" font-size="6.0" text-anchor="middle" font-weight="bold" fill="#3a3a3a" stroke="#3a3a3a" stroke-width="0.12">***</text>
<text x="493.4" y="222.6" font-size="6.0" text-anchor="middle" font-weight="bold" fill="#3a3a3a" stroke="#3a3a3a" stroke-width="0.12">***</text>
<text x="449.2" y="306.0" font-size="5.8" text-anchor="end" font-weight="bold" fill="#111" stroke="#111" stroke-width="0.45" textLength="18.80" lengthAdjust="spacingAndGlyphs" transform="rotate(-45 449.2 306.0)">CAR19</text>
<text x="477.6" y="306.0" font-size="5.8" text-anchor="end" font-weight="bold" fill="#111" stroke="#111" stroke-width="0.45" textLength="41.50" lengthAdjust="spacingAndGlyphs" transform="rotate(-45 477.6 306.0)">CAR19 + <tspan font-weight="normal">α</tspan>PD-1</text>
<text x="505.8" y="306.0" font-size="5.8" text-anchor="end" font-weight="bold" fill="#111" stroke="#111" stroke-width="0.45" textLength="35.00" lengthAdjust="spacingAndGlyphs" transform="rotate(-45 505.8 306.0)">CAR19.<tspan font-weight="normal">α</tspan>PD1</text>
</g>
</svg>
</body>
</html>
